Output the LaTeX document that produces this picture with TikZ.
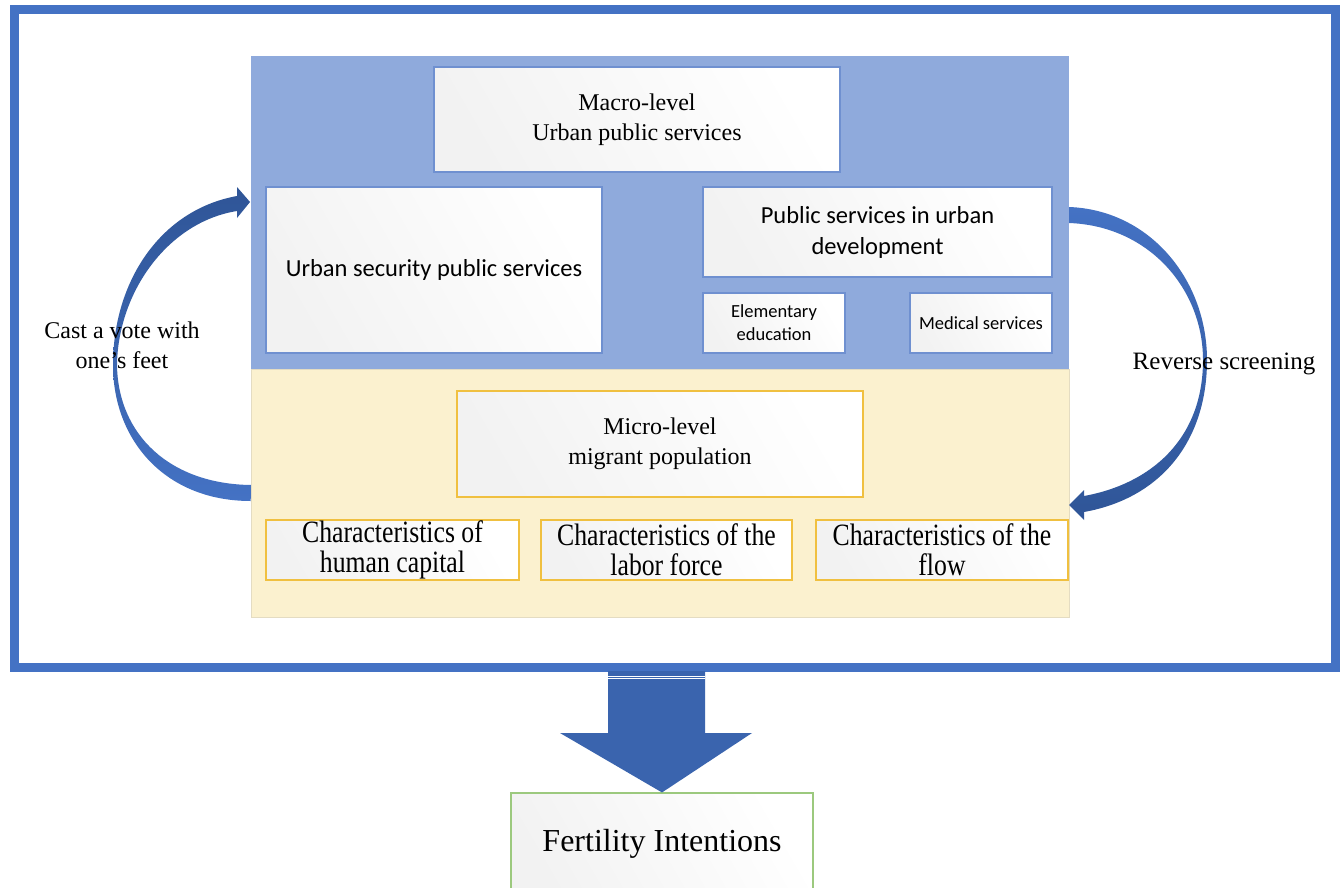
\documentclass[tikz,border=0pt]{standalone}
\usepackage{fontspec}
\setmainfont{Liberation Serif}
\newfontfamily\calib{Carlito}
\newfontfamily\condserif[FakeStretch=0.83]{Liberation Serif}
\definecolor{frameblue}{HTML}{4472C4}
\definecolor{panelblue}{HTML}{8FAADC}
\definecolor{panelyellow}{HTML}{FBF1CF}
\definecolor{panelyellowbd}{HTML}{E4DCC2}
\definecolor{bluebd}{HTML}{6F90D0}
\definecolor{goldbd}{HTML}{F0C040}
\definecolor{greenbd}{HTML}{9CC97E}
\definecolor{arrowdark}{HTML}{2F5597}
\definecolor{arrowmid}{HTML}{3A64AE}
\definecolor{arrowlight}{HTML}{4472C4}
\tikzset{
  wbox/.style={rectangle, inner sep=0pt, align=center, left color=black!5, right color=white, shading angle=120},
  bluebox/.style={wbox, draw=bluebd, line width=1.1pt},
  goldbox/.style={wbox, draw=goldbd, line width=1.1pt},
  greenbox/.style={wbox, draw=greenbd, line width=1.1pt},
  serif24/.style={font=\fontsize{24}{30}\selectfont},
  sans25/.style={font=\calib\fontsize{24.5}{31}\selectfont},
  sans19/.style={font=\calib\fontsize{18.5}{23}\selectfont},
  charfont/.style={font=\condserif\fontsize{31}{30}\selectfont},
  lbl/.style={inner sep=0pt, align=center},
}
\begin{document}
\begin{tikzpicture}[x=1pt,y=-1pt]
\useasboundingbox (0,0) rectangle (1343,888);
\fill[white] (0,0) rectangle (1343,888);
% outer frame
\draw[line width=9pt, frameblue] (14,10) rectangle (1335,667);
% panels
\node (bluepanel) [rectangle, fill=panelblue, inner sep=0pt, minimum width=818pt, minimum height=313pt] at (660,212.5) {};
\node (yellowpanel) [rectangle, fill=panelyellow, draw=panelyellowbd, line width=0.6pt, inner sep=0pt, minimum width=818pt, minimum height=248pt] at (660,493) {};
% top boxes
\node (macro) [bluebox, serif24, minimum width=406pt, minimum height=105pt] at (637,119.5) {Macro-level\\Urban public services};
\node (security) [bluebox, sans25, minimum width=336pt, minimum height=166pt] at (434,270) {Urban security public services};
\node (develop) [bluebox, sans25, minimum width=349pt, minimum height=90pt] at (877.5,232) {Public services in urban\\development};
\node (elem) [bluebox, sans19, minimum width=142pt, minimum height=60pt] at (774,323) {Elementary\\education};
\node (medical) [bluebox, sans19, minimum width=142pt, minimum height=60pt] at (981,323) {Medical services};
% bottom boxes
\node (micro) [goldbox, serif24, minimum width=406pt, minimum height=106pt] at (660,444) {Micro-level\\migrant population};
\node (human) [goldbox, charfont, minimum width=253pt, minimum height=60pt] at (392.5,550) {Characteristics of\\human capital};
\node (labor) [goldbox, charfont, minimum width=251pt, minimum height=60pt] at (666.5,550) {Characteristics of the\\labor force};
\node (flow) [goldbox, charfont, minimum width=252pt, minimum height=60pt] at (942,550) {Characteristics of the\\flow};
% fertility box
\node (fert) [greenbox, font=\fontsize{32}{38}\selectfont, minimum width=302pt, minimum height=102pt] at (662,844) {Fertility Intentions};
% down arrow
\fill[arrowmid] (608,671) -- (705,671) -- (705,733) -- (752,733) -- (fert.north) -- (560,733) -- (608,733) -- cycle;
\draw[white, line width=0.6pt] (608,676) -- (705,676) (608,678.5) -- (705,678.5);
% left curved arrow (vote with feet)
\shade[top color=arrowdark, bottom color=arrowlight]
  (yellowpanel.west |- 0,501) .. controls (165,501) and (113,440) .. (113,365)
  .. controls (113,282) and (160,210) .. (237,196)
  -- (237,187) -- (250,202) -- (237,218) -- (237,211)
  .. controls (168,222) and (118,292) .. (117,365)
  .. controls (118,435) and (170,484) .. (251,485) -- cycle;
% right curved arrow (reverse screening)
\shade[top color=arrowlight, bottom color=arrowdark]
  (1069,207) .. controls (1150,210) and (1207,280) .. (1207,360)
  .. controls (1207,440) and (1162,498) .. (1084,512)
  -- (1084,520) -- (1069,505) -- (1084,490) -- (1084,496)
  .. controls (1150,484) and (1203,440) .. (1203,360)
  .. controls (1203,290) and (1150,226) .. (1069,223) -- cycle;
% labels
\node (vote) [lbl, serif24] at (122,345) {Cast a vote with\\one's feet};
\node (reverse) [lbl, font=\fontsize{25}{30}\selectfont] at (1224,364) {Reverse screening};
\end{tikzpicture}
\end{document}
